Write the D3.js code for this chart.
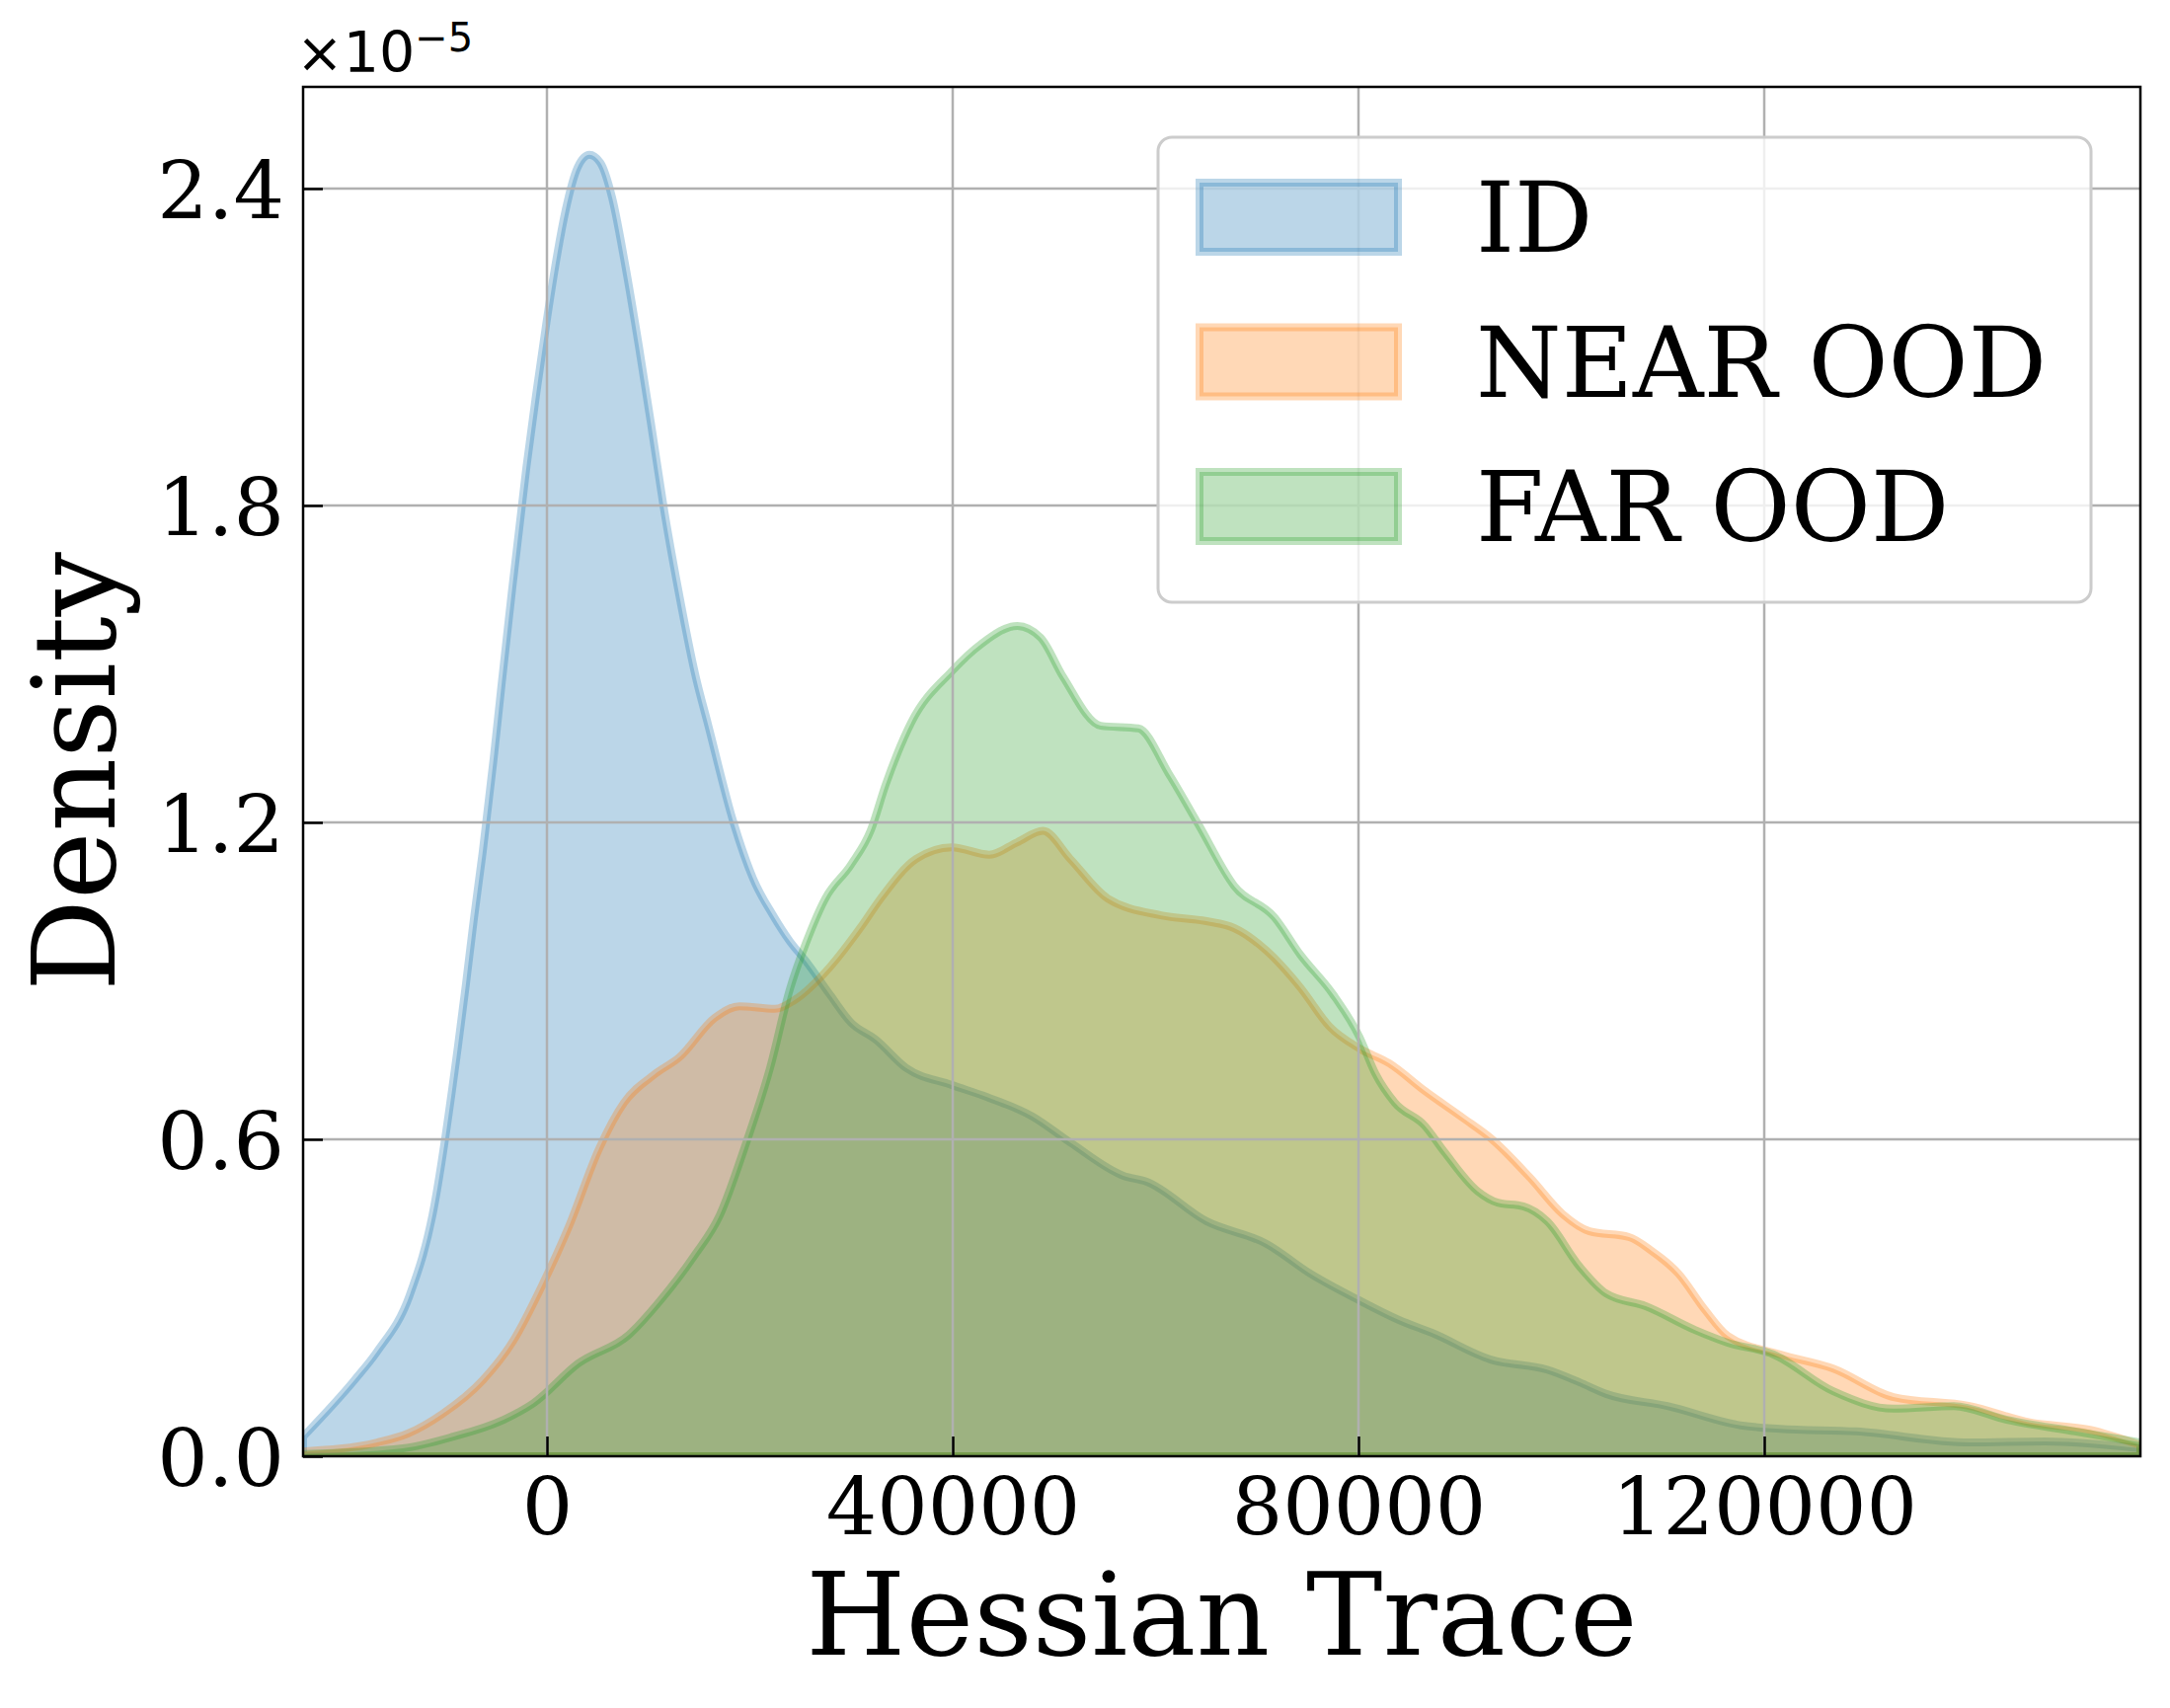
<!DOCTYPE html>
<html>
<head>
<meta charset="utf-8">
<script src="https://cdn.jsdelivr.net/npm/d3@7"></script>
<style>
  body { margin: 0; background: #fff; }
  text { font-family: "DejaVu Serif", serif; fill: #000; }
</style>
</head>
<body>
<svg width="2198" height="1730"></svg>
<script>
// density values are in units of 1e-5
const idTrace = [-24040, -18980, -16740, -13530, -11290, -8760, -7980, -7200, -6330, -5260, -4480,
    -3500, -2040, -1070, -100, 876, 1850, 3020, 4180, 5260, 6420, 7690, 9050, 10320, 11480, 12940,
    14700, 15860, 18390, 20340, 22290, 23940, 25500, 27930, 29970, 32400, 35420, 39900, 43400, 47880,
    51580, 56830, 59070, 65010, 70950, 75230, 80090, 83990, 87200, 93040, 98590, 101800, 104420,
    110460, 117850, 121550, 129040, 140240, 147630, 157080];
const idDensity = [0.037, 0.144, 0.198, 0.305, 0.456, 0.778, 0.895, 1.018, 1.145, 1.32, 1.46,
    1.63, 1.87, 2.01, 2.14, 2.26, 2.36, 2.44, 2.464, 2.449, 2.383, 2.258, 2.103, 1.947, 1.80, 1.641,
    1.473, 1.387, 1.2, 1.093, 1.024, 0.975, 0.938, 0.873, 0.821, 0.789, 0.735, 0.703, 0.680, 0.643,
    0.594, 0.531, 0.52, 0.445, 0.402, 0.346, 0.295, 0.258, 0.234, 0.183, 0.164, 0.140, 0.118,
    0.095, 0.058, 0.052, 0.047, 0.026, 0.028, 0.015];

const nearTrace = [-24040, -16740, -13720, -10320, -6330, -3310, -390, 2140, 5160, 7590, 10610, 13040,
    16540, 18980, 22480, 24430, 27930, 30950, 32900, 36400, 39900, 43600, 46320, 48900, 51580, 55280,
    60530, 65010, 67740, 70950, 74250, 77170, 80090, 83020, 86520, 90410, 93040, 96930, 100150, 102770,
    106670, 108900, 111530, 114160, 116390, 121550, 126810, 132740, 140240, 146170, 152110, 157080];
const nearDensity = [0.009, 0.026, 0.043, 0.08, 0.144, 0.219, 0.327, 0.434, 0.583, 0.669, 0.723, 0.755,
    0.830, 0.852, 0.847, 0.864, 0.927, 1.002, 1.056, 1.131, 1.153, 1.139, 1.162, 1.184, 1.131, 1.056,
    1.024, 1.013, 1.0, 0.957, 0.888, 0.813, 0.772, 0.744, 0.692, 0.639, 0.602, 0.527, 0.458, 0.426,
    0.415, 0.389, 0.346, 0.277, 0.228, 0.193, 0.166, 0.112, 0.095, 0.064, 0.05, 0.021];

const farTrace = [-24040, -14210, -9250, -4280, -1360, 3110, 8080, 11090, 14500, 17030, 19460, 21990,
    23940, 25500, 27440, 29970, 31920, 33380, 35910, 39900, 42820, 46370, 48660, 50900, 54600, 58300,
    61310, 64230, 67740, 71730, 74250, 77470, 80090, 81650, 83600, 86520, 88470, 91780, 93720, 96250,
    98590, 101800, 104420, 108320, 113180, 116390, 120870, 126810, 132740, 138680, 143930, 150650, 157080];
const farDensity = [0.004, 0.015, 0.037, 0.069, 0.1, 0.176, 0.23, 0.293, 0.379, 0.456, 0.583, 0.735,
    0.884, 0.97, 1.056, 1.12, 1.185, 1.271, 1.389, 1.486, 1.538, 1.572, 1.55, 1.475, 1.383, 1.378,
    1.292, 1.196, 1.08, 1.02, 0.950, 0.875, 0.794, 0.725, 0.669, 0.626, 0.576, 0.501, 0.480, 0.473,
    0.445, 0.359, 0.308, 0.284, 0.239, 0.215, 0.193, 0.123, 0.09, 0.095, 0.069, 0.047, 0.026];

const labels = ["ID", "NEAR OOD", "FAR OOD"];
const colors = ["#1f77b4", "#ff7f0e", "#2ca02c"];
const xTicks = [0, 40000, 80000, 120000];
const yTicks = [0, 0.6, 1.2, 1.8, 2.4];

const svg = d3.select("svg");
const pLeft = 307, pRight = 2168, pTop = 88, pBottom = 1475;

const x = d3.scaleLinear().domain([-24040, 157080]).range([pLeft, pRight]);
const y = d3.scaleLinear().domain([0, 2.5925]).range([pBottom, pTop]);

const series = [
    { label: labels[0], color: colors[0], xs: idTrace, ys: idDensity },
    { label: labels[1], color: colors[1], xs: nearTrace, ys: nearDensity },
    { label: labels[2], color: colors[2], xs: farTrace, ys: farDensity }
];

svg.append("defs").append("clipPath").attr("id", "plot")
    .append("rect")
    .attr("x", pLeft).attr("y", pTop)
    .attr("width", pRight - pLeft).attr("height", pBottom - pTop);

const area = d3.area()
    .x(d => x(d[0]))
    .y0(y(0))
    .y1(d => y(d[1]))
    .curve(d3.curveMonotoneX);

const fills = svg.append("g").attr("clip-path", "url(#plot)");
series.forEach(s => {
    fills.append("path")
        .datum(d3.zip(s.xs, s.ys))
        .attr("d", area)
        .attr("fill", s.color)
        .attr("fill-opacity", 0.3)
        .attr("stroke", s.color)
        .attr("stroke-opacity", 0.3)
        .attr("stroke-width", 8)
        .attr("stroke-linejoin", "round");
});

// grid above the fills, like matplotlib's default
const grid = svg.append("g");
grid.selectAll(".gx").data(xTicks).enter().append("line")
    .attr("x1", d => x(d)).attr("x2", d => x(d))
    .attr("y1", pTop).attr("y2", pBottom)
    .attr("stroke", "#b0b0b0").attr("stroke-width", 2.5);
grid.selectAll(".gy").data(yTicks.slice(1)).enter().append("line")
    .attr("x1", pLeft).attr("x2", pRight)
    .attr("y1", d => y(d)).attr("y2", d => y(d))
    .attr("stroke", "#b0b0b0").attr("stroke-width", 2.5);

const xAxis = svg.append("g")
    .attr("transform", "translate(0," + pBottom + ")")
    .call(d3.axisBottom(x).tickValues(xTicks).tickFormat(d3.format("d"))
        .tickSizeInner(-20).tickSizeOuter(0).tickPadding(21));
xAxis.select(".domain").remove();
xAxis.selectAll("line").attr("stroke", "#000").attr("stroke-width", 2.5);
xAxis.selectAll("text").attr("font-size", 81).attr("font-family", "DejaVu Serif");

const yAxis = svg.append("g")
    .attr("transform", "translate(" + pLeft + ",0)")
    .call(d3.axisLeft(y).tickValues(yTicks).tickFormat(d3.format(".1f"))
        .tickSizeInner(-20).tickSizeOuter(0).tickPadding(19));
yAxis.select(".domain").remove();
yAxis.selectAll("line").attr("stroke", "#000").attr("stroke-width", 2.5);
yAxis.selectAll("text").attr("font-size", 81).attr("font-family", "DejaVu Serif").attr("dy", "0.37em");

svg.append("rect")
    .attr("x", pLeft).attr("y", pTop)
    .attr("width", pRight - pLeft).attr("height", pBottom - pTop)
    .attr("fill", "none").attr("stroke", "#000").attr("stroke-width", 2.5);

// offset text (mathtext style, sans)
const off = svg.append("text").attr("x", 300).attr("y", 73).attr("font-size", 57)
    .style("font-family", "'DejaVu Sans', sans-serif");
off.append("tspan").text("×10");
off.append("tspan").attr("dy", -21).attr("font-size", 40).text("−5");

svg.append("text")
    .attr("x", (pLeft + pRight) / 2).attr("y", 1676)
    .attr("text-anchor", "middle").attr("font-size", 116)
    .text("Hessian Trace");

svg.append("text")
    .attr("transform", "translate(116," + ((pTop + pBottom) / 2) + ") rotate(-90)")
    .attr("text-anchor", "middle").attr("font-size", 116)
    .text("Density");

// legend
const legend = svg.append("g");
legend.append("rect")
    .attr("x", 1173).attr("y", 139).attr("width", 945).attr("height", 471)
    .attr("rx", 14).attr("ry", 14)
    .attr("fill", "#fff").attr("fill-opacity", 0.8)
    .attr("stroke", "#cccccc").attr("stroke-width", 3);
series.forEach((s, i) => {
    const yy = 185 + i * 146.5;
    legend.append("rect")
        .attr("x", 1215).attr("y", yy).attr("width", 201).attr("height", 70)
        .attr("fill", s.color).attr("fill-opacity", 0.3)
        .attr("stroke", s.color).attr("stroke-opacity", 0.3).attr("stroke-width", 8);
    legend.append("text")
        .attr("x", 1495).attr("y", yy + 70)
        .attr("font-size", 99)
        .text(s.label);
});
</script>
</body>
</html>
